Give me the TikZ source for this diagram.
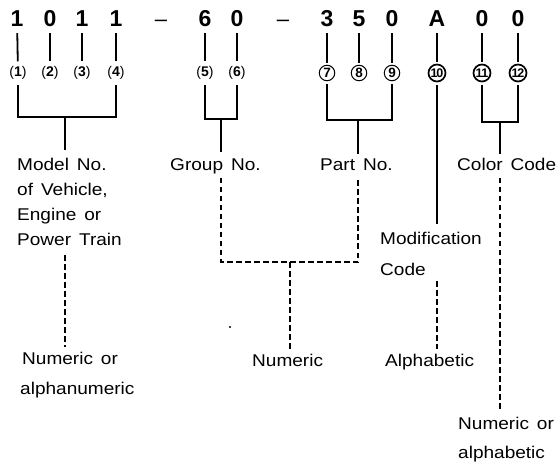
\documentclass[tikz,border=0pt]{standalone}
\usepackage{fontspec}
\setmainfont{Liberation Sans}
\newfontfamily\lblfont[FakeStretch=1.12,WordSpace=1.5]{Liberation Sans}
\newfontfamily\digfont{Liberation Sans}
\begin{document}
\begin{tikzpicture}[x=1pt,y=-1pt,
  dig/.style={inner sep=0pt,anchor=base,font=\digfont\fontsize{23}{23}\selectfont\bfseries},
  dsh/.style={inner sep=0pt,anchor=base,font=\digfont\fontsize{22}{22}\selectfont},
  lbl/.style={inner sep=0pt,anchor=base west,font=\lblfont\fontsize{17}{20}\selectfont},
  solidln/.style={line width=1.8pt},
  dashln/.style={line width=1.5pt,dash pattern=on 5.5pt off 3.5pt},
  parlbl/.style={inner sep=0pt,font=\digfont\fontsize{14}{14}\selectfont},
  circlbl/.style={circle,draw,line width=1pt,inner sep=0pt,minimum size=15.5pt,font=\digfont\fontsize{13.5}{13.5}\selectfont\bfseries},
  circbold/.style={circlbl,line width=1.7pt,minimum size=17pt,font=\digfont\fontsize{12.5}{12.5}\selectfont\bfseries}
]
\useasboundingbox (0,0) rectangle (559,462);

% top code
\node[dig] (d1) at (17,27) {1};
\node[dig] (d2) at (50,27) {0};
\node[dig] (d3) at (82,27) {1};
\node[dig] (d4) at (116,27) {1};
\node[dsh] (h1) at (161,27) {–};
\node[dig] (d5) at (205,27) {6};
\node[dig] (d6) at (237,27) {0};
\node[dsh] (h2) at (283,27) {–};
\node[dig] (d7) at (327,27) {3};
\node[dig] (d8) at (359,27) {5};
\node[dig] (d9) at (392,27) {0};
\node[dig] (d10) at (437,27) {A};
\node[dig] (d11) at (482,27) {0};
\node[dig] (d12) at (518,27) {0};

% position labels
\node[parlbl] (p1) at (18,73) {(\textbf{1})};
\node[parlbl] (p2) at (50,73) {(\textbf{2})};
\node[parlbl] (p3) at (82,73) {(\textbf{3})};
\node[parlbl] (p4) at (116,73) {(\textbf{4})};
\node[parlbl] (p5) at (205,73) {(\textbf{5})};
\node[parlbl] (p6) at (237,73) {(\textbf{6})};
\node[circlbl] (p7) at (327,73) {7};
\node[circlbl] (p8) at (359,73) {8};
\node[circlbl] (p9) at (392,73) {9};
\node[circbold] (p10) at (437,73) {1\kern-1.2pt0};
\node[circbold] (p11) at (482,73) {1\kern-1.2pt1};
\node[circbold] (p12) at (518,73) {1\kern-1.2pt2};

% stubs from characters to position labels
\foreach \i in {1,...,6}{
  \draw[solidln,shorten <=6pt,shorten >=5pt] (d\i) -- (p\i);
}
\foreach \i in {7,...,12}{
  \draw[solidln,shorten <=6pt,shorten >=2pt] (d\i) -- (p\i);
}

% brackets
\coordinate (b1) at (18,117);
\coordinate (b4) at (116,117);
\coordinate (m1) at (65,117);
\coordinate (m1e) at (65,150);
\draw[solidln,shorten <=5pt,shorten >=5pt] (p1) -- (b1) -- (b4) -- (p4);
\draw[solidln] (m1) -- (m1e);

\coordinate (b5) at (205,119);
\coordinate (b6) at (237,119);
\coordinate (m2) at (221,119);
\coordinate (m2e) at (221,152);
\draw[solidln,shorten <=5pt,shorten >=5pt] (p5) -- (b5) -- (b6) -- (p6);
\draw[solidln] (m2) -- (m2e);

\coordinate (b7) at (327,120);
\coordinate (b9) at (392,120);
\coordinate (m3) at (358,120);
\coordinate (m3e) at (358,154);
\draw[solidln,shorten <=3pt,shorten >=3pt] (p7) -- (b7) -- (b9) -- (p9);
\draw[solidln] (m3) -- (m3e);

\coordinate (a1) at (437,224);
\draw[solidln,shorten <=3pt] (p10) -- (a1);

\coordinate (b11) at (482,122);
\coordinate (b12) at (518,122);
\coordinate (m4) at (500,122);
\coordinate (m4e) at (500,154);
\draw[solidln,shorten <=3pt,shorten >=3pt] (p11) -- (b11) -- (b12) -- (p12);
\draw[solidln] (m4) -- (m4e);

% labels
\node[lbl] (t1) at (17,171) {Model No.};
\node[lbl] (t2) at (17,196) {of Vehicle,};
\node[lbl] (t3) at (17,221) {Engine or};
\node[lbl] (t4) at (17,246) {Power Train};
\node[lbl] (t5) at (170,171) {Group No.};
\node[lbl] (t6) at (320,171) {Part No.};
\node[lbl] (t7) at (457,171) {Color Code};
\node[lbl] (t8) at (380,244) {Modification};
\node[lbl] (t9) at (380,275) {Code};

\node[lbl] (n1) at (22,364) {Numeric or};
\node[lbl] (n2) at (20,394) {alphanumeric};
\node[lbl] (n3) at (252,366) {Numeric};
\node[lbl] (n4) at (385,366) {Alphabetic};
\node[lbl] (n5) at (458,429) {Numeric or};
\node[lbl] (n6) at (458,458) {alphabetic};

% dashed connectors
\coordinate (l1) at (65,255);
\coordinate (l2) at (65,347);
\draw[dashln] (l1) -- (l2);

\coordinate (g1) at (221,178);
\coordinate (g2) at (221,262);
\coordinate (g3) at (358,262);
\coordinate (g4) at (358,178);
\draw[dashln] (g1) -- (g2) -- (g3) -- (g4);
\coordinate (c1) at (290,262);
\coordinate (c2) at (290,349);
\draw[dashln] (c1) -- (c2);

\coordinate (e1) at (437,281);
\coordinate (e2) at (437,349);
\draw[dashln] (e1) -- (e2);

\coordinate (k1) at (500,178);
\coordinate (k2) at (500,411);
\draw[dashln] (k1) -- (k2);

% stray speck
\fill (230,327) circle (1.2pt);
\end{tikzpicture}
\end{document}
